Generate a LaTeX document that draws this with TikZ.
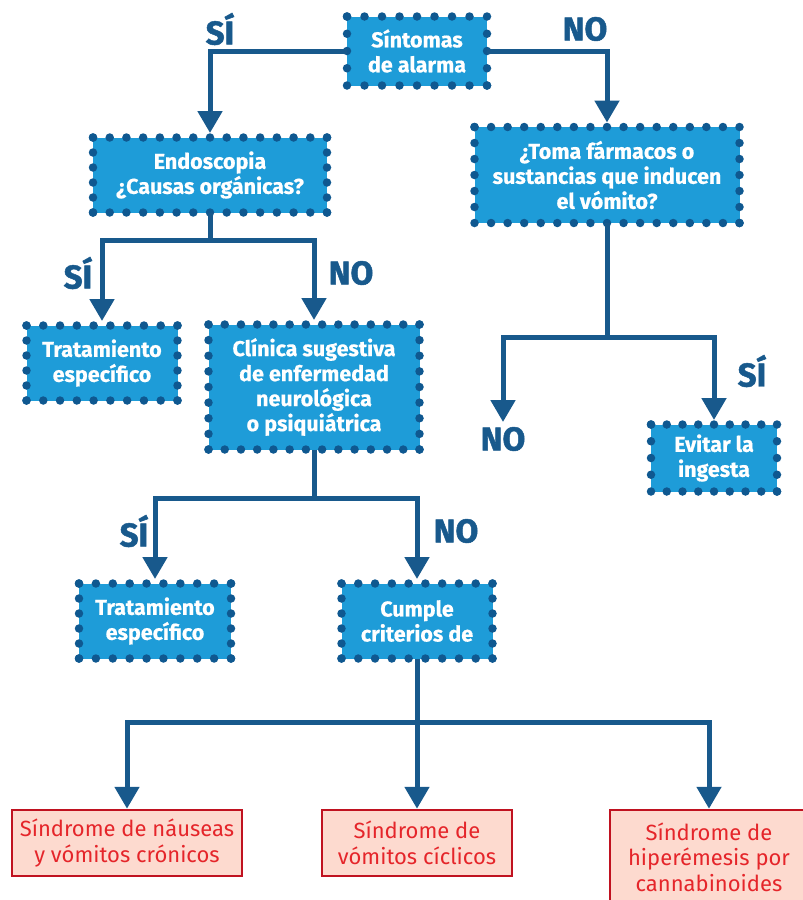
\documentclass[tikz,border=0pt]{standalone}
\usepackage{fontspec}
\setmainfont{Fira Sans}
\newfontfamily\lblfont[BoldFeatures={FakeBold=1.5}]{Fira Sans}
\newfontfamily\boxfont[BoldFeatures={FakeBold=0.6}]{Fira Sans}
\usetikzlibrary{arrows.meta}
\definecolor{boxblue}{HTML}{1E9CD8}
\definecolor{dotblue}{HTML}{0F5890}
\definecolor{lineblue}{HTML}{18598C}
\definecolor{redfill}{HTML}{FDDACF}
\definecolor{redline}{HTML}{C01220}
\definecolor{redtext}{HTML}{E5252A}
\tikzset{
  bluebox/.style={fill=boxblue, text=white, align=center, inner sep=0pt, outer sep=0pt,
    font=\boxfont\bfseries\fontsize{21.5}{25}\selectfont},
  dotline/.style={draw=dotblue, line width=8.5pt, line cap=round},
  redbox/.style={fill=redfill, draw=redline, line width=2.5pt, text=redtext,
    align=center, inner sep=0pt, font=\fontsize{22}{25.5}\selectfont},
  conn/.style={draw=lineblue, line width=5pt},
  arr/.style={conn, -{Triangle[width=24pt,length=22pt]}},
  arrb/.style={arr, shorten >=4.5pt},
  lbl/.style={text=lineblue, font=\lblfont\bfseries\fontsize{33}{36}\selectfont, inner sep=0pt}
}
\newcommand\dotbox[1]{%
  \pgfpointdiff{\pgfpointanchor{#1}{north west}}{\pgfpointanchor{#1}{south east}}%
  \pgfgetlastxy{\dbx}{\dby}%
  \pgfmathsetmacro\dbw{abs(\dbx)}%
  \pgfmathsetmacro\dbh{abs(\dby)}%
  \pgfmathsetmacro\dbsx{\dbw/max(1,round(\dbw/16.6))}%
  \pgfmathsetmacro\dbsy{\dbh/max(1,round(\dbh/16.6))}%
  \draw[dotline, dash pattern=on 0pt off \dbsx pt]
    (#1.north west) -- (#1.north east) (#1.south west) -- (#1.south east);
  \draw[dotline, dash pattern=on 0pt off \dbsy pt]
    (#1.north west) -- (#1.south west) (#1.south east) -- (#1.north east);
}
\begin{document}
\begin{tikzpicture}[x=1pt,y=-1pt]
\useasboundingbox (0,0) rectangle (803,900);
% blue boxes
\node[bluebox, minimum width=140pt, minimum height=69pt] (sint) at (417,51) {Síntomas\\de alarma};
\node[bluebox, minimum width=234pt, minimum height=75pt] (endo) at (210,175) {Endoscopia\\¿Causas orgánicas?};
\node[bluebox, minimum width=265pt, minimum height=96pt] (toma) at (607,175) {¿Toma fármacos o\\sustancias que inducen\\el vómito?};
\node[bluebox, minimum width=151pt, minimum height=75pt] (trat1) at (102,363) {Tratamiento\\específico};
\node[bluebox, minimum width=211pt, minimum height=125pt] (clin) at (314,387) {Clínica sugestiva\\de enfermedad\\neurológica\\o psiquiátrica};
\node[bluebox, minimum width=126pt, minimum height=67pt] (evit) at (714,458) {Evitar la\\ingesta};
\node[bluebox, minimum width=152pt, minimum height=75pt] (trat2) at (155,621) {Tratamiento\\específico};
\node[bluebox, minimum width=151pt, minimum height=75pt] (cump) at (417,621) {Cumple\\criterios de};
\dotbox{sint}\dotbox{endo}\dotbox{toma}\dotbox{trat1}
\dotbox{clin}\dotbox{evit}\dotbox{trat2}\dotbox{cump}
% red boxes
\node[redbox, minimum width=230pt, minimum height=66pt] (red1) at (127,843) {Síndrome de náuseas\\y vómitos crónicos};
\node[redbox, minimum width=190pt, minimum height=66pt] (red2) at (417,843) {Síndrome de\\vómitos cíclicos};
\node[redbox, minimum width=198pt, minimum height=94pt] (red3) at (709,857) {Síndrome de\\hiperémesis por\\cannabinoides};
% connectors
\draw[arrb] (sint.west) -| (endo.north);
\draw[arrb] (sint.east) -| (toma.north);
\coordinate (j1) at (210,240);
\draw[conn] (endo.south) -- (j1);
\draw[arrb] (j1) -| (trat1.north);
\draw[arrb] (j1) -| (clin.north);
\coordinate (j2) at (607,337);
\coordinate (noend) at (503,422);
\draw[conn] (toma.south) -- (j2);
\draw[arr] (j2) -| (noend);
\draw[arrb] (j2) -| (evit.north);
\coordinate (j3) at (314,498);
\draw[conn] (clin.south) -- (j3);
\draw[arrb] (j3) -| (trat2.north);
\draw[arrb] (j3) -| (cump.north);
\coordinate (j4) at (417,722);
\draw[conn] (cump.south) -- (j4);
\draw[arr] (j4) -| (red1.north);
\draw[arr] (j4) -- (red2.north);
\draw[arr] (j4) -| (red3.north);
% labels
\node[lbl] (l1) at (220,29) {SÍ};
\node[lbl] (l2) at (585,29) {NO};
\node[lbl] (l3) at (78,273) {SÍ};
\node[lbl] (l4) at (351,273) {NO};
\node[lbl] (l5) at (503,439) {NO};
\node[lbl] (l6) at (752,371) {SÍ};
\node[lbl] (l7) at (134,531) {SÍ};
\node[lbl] (l8) at (456,531) {NO};
\end{tikzpicture}
\end{document}
